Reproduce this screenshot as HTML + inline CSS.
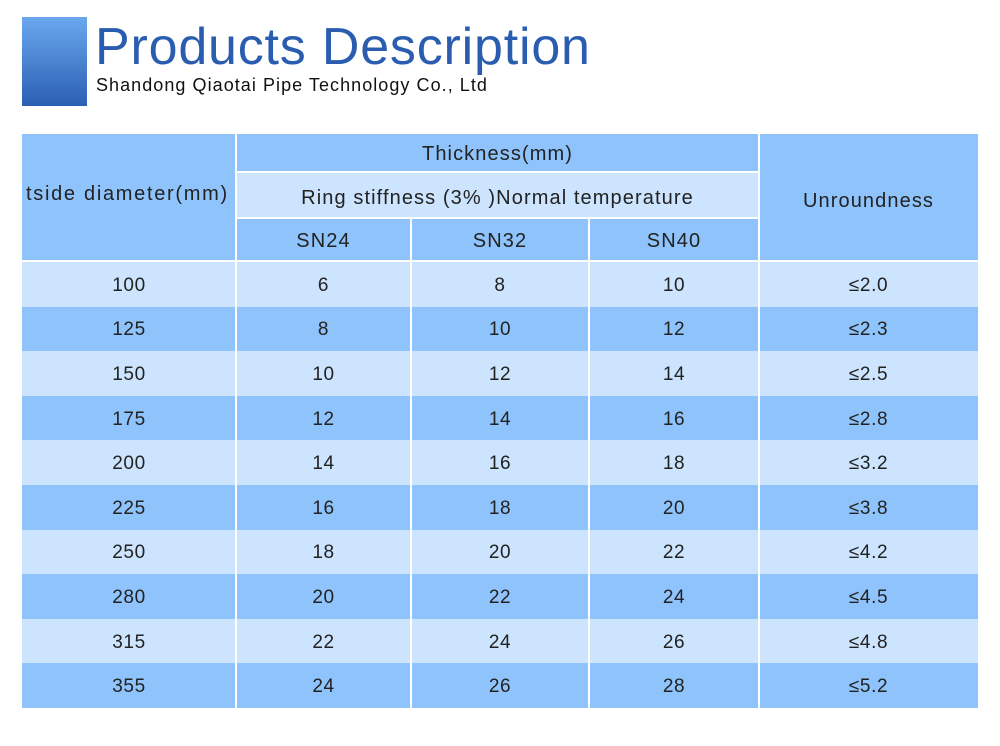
<!DOCTYPE html>
<html><head><style>
body{margin:0;width:1000px;height:746px;background:#fff;position:relative;overflow:hidden;font-family:"Liberation Sans","DejaVu Sans",sans-serif;}
.sq{position:absolute;left:22px;top:17px;width:65px;height:89px;background:linear-gradient(#6aa8ee,#2b5fb3);}
.t{position:absolute;left:95px;top:17px;font-size:52px;color:#2a5db0;line-height:60px;letter-spacing:0.8px}
.s{position:absolute;left:96px;top:74px;font-size:18px;color:#111;line-height:22px;letter-spacing:1.05px}
.c{position:absolute;display:flex;align-items:center;justify-content:center;font-size:19px;color:#222;box-sizing:border-box;padding-top:3px;letter-spacing:0.6px}
.hd{font-size:20px;letter-spacing:1.1px}
.d{background:#8fc3fb}.l{background:#cce4fd}
.v{position:absolute;width:2px;background:#fff;}
.h{position:absolute;height:2px;background:#fff;}
</style></head><body>
<div class="sq"></div>
<div class="t">Products Description</div>
<div class="s">Shandong Qiaotai Pipe Technology Co., Ltd</div>

<div class="c d" style="left:22px;top:134px;width:956px;height:128px"></div>
<div class="c d hd" style="left:22px;top:134px;width:214px;height:128px;justify-content:flex-start;padding-left:4px;padding-bottom:10px;letter-spacing:1.7px;white-space:nowrap">tside diameter(mm)</div>
<div class="c d hd" style="left:236px;top:134px;width:523px;height:38px">Thickness(mm)</div>
<div class="c l hd" style="left:236px;top:172px;width:523px;height:46px;padding-top:6px">Ring stiffness (3% )Normal temperature</div>
<div class="c d hd" style="left:236px;top:218px;width:175px;height:44px">SN24</div>
<div class="c d hd" style="left:411px;top:218px;width:178px;height:44px">SN32</div>
<div class="c d hd" style="left:589px;top:218px;width:170px;height:44px">SN40</div>
<div class="c d hd" style="left:759px;top:134px;width:219px;height:128px;padding-top:6px">Unroundness</div>

<div id="rows"></div>
<script>
var data=[["100",6,8,10,"≤2.0"],["125",8,10,12,"≤2.3"],["150",10,12,14,"≤2.5"],["175",12,14,16,"≤2.8"],["200",14,16,18,"≤3.2"],["225",16,18,20,"≤3.8"],["250",18,20,22,"≤4.2"],["280",20,22,24,"≤4.5"],["315",22,24,26,"≤4.8"],["355",24,26,28,"≤5.2"]];
var xs=[22,236,411,589,759,978],h='';
data.forEach(function(r,i){var y=262+i*44.6;for(var j=0;j<5;j++){h+='<div class="c '+(i%2?'d':'l')+'" style="left:'+xs[j]+'px;top:'+y+'px;width:'+(xs[j+1]-xs[j])+'px;height:44.6px">'+r[j]+'</div>';}});
document.getElementById('rows').innerHTML=h;
</script>
<div class="v" style="left:235px;top:134px;height:574px"></div>
<div class="v" style="left:758px;top:134px;height:574px"></div>
<div class="v" style="left:410px;top:218px;height:490px"></div>
<div class="v" style="left:588px;top:218px;height:490px"></div>
<div class="h" style="left:236px;top:171px;width:523px"></div>
<div class="h" style="left:236px;top:217px;width:523px"></div>
<div class="h" style="left:22px;top:260px;width:956px"></div>
</body></html>
